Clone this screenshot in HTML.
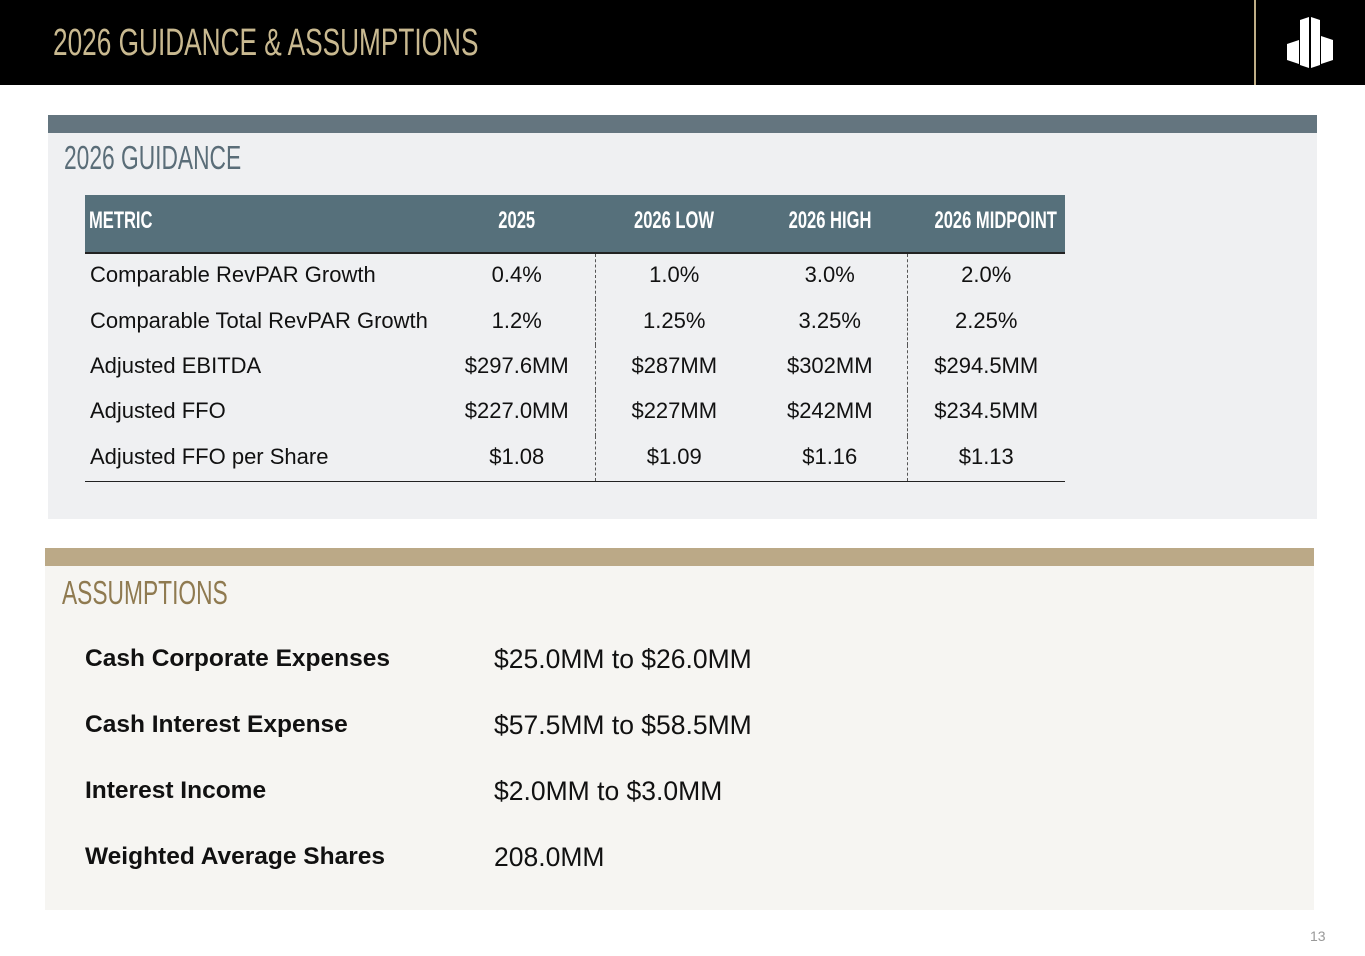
<!DOCTYPE html>
<html><head><meta charset="utf-8">
<style>
body{margin:0;width:1365px;height:956px;background:#fff;position:relative;overflow:hidden;font-family:"Liberation Sans",sans-serif;}
.abs{position:absolute;}
.cond{display:inline-block;transform:scaleX(0.69);transform-origin:left center;white-space:nowrap;}
table{border-collapse:collapse;position:absolute;left:85px;top:195px;width:980px;font-size:22px;color:#111;table-layout:fixed;}
th{background:#56707b;color:#fff;height:58px;font-weight:bold;font-size:24px;text-align:center;padding:0 0 6px 0;border-bottom:2px solid #222;white-space:nowrap;box-sizing:border-box;}
th span{display:inline-block;transform:scaleX(0.69);}
th:first-child{text-align:left;padding-left:4px;}
th:first-child span{transform-origin:left center;}
td{height:42.4px;text-align:center;padding:0 0 3px 0;white-space:nowrap;}
td:first-child{text-align:left;padding-left:5px;}
tr:last-child td{border-bottom:1.5px solid #222;}
.dl{border-left:1px dashed #555;}
.ar{font-size:24.5px;font-weight:bold;color:#111;}
.av{font-size:26.5px;color:#111;}
</style></head><body>
<div class="abs" style="left:0;top:0;width:1365px;height:85px;background:#000;"></div>
<div class="abs cond" style="left:53px;top:22px;font-size:38px;color:#c9b990;">2026 GUIDANCE &amp; ASSUMPTIONS</div>
<div class="abs" style="left:1254px;top:0;width:2px;height:85px;background:#bfae86;"></div>
<svg class="abs" style="left:1285px;top:14px" width="50" height="56" viewBox="0 0 50 56">
<polygon points="2,30 14,26 14,50 2,46" fill="#fff"/><polygon points="15,6 24,3 24,54 15,51" fill="#fff"/><polygon points="26,3 35,6 35,51 26,54" fill="#fff"/><polygon points="36,22 48,26 48,46 36,50" fill="#fff"/></svg>

<div class="abs" style="left:48px;top:115px;width:1269px;height:404px;background:#eff0f2;"></div>
<div class="abs" style="left:48px;top:115px;width:1269px;height:18px;background:#64757f;"></div>
<div class="abs cond" style="left:64px;top:139px;font-size:33px;color:#5a6d78;">2026 GUIDANCE</div>
<table>
<colgroup><col style="width:354px"><col style="width:156px"><col style="width:158px"><col style="width:154px"><col></colgroup>
<tr><th><span>METRIC</span></th><th><span>2025</span></th><th><span>2026 LOW</span></th><th><span>2026 HIGH</span></th><th><span>2026 MIDPOINT</span></th></tr>
<tr><td>Comparable RevPAR Growth</td><td>0.4%</td><td class="dl">1.0%</td><td>3.0%</td><td class="dl">2.0%</td></tr>
<tr><td>Comparable Total RevPAR Growth</td><td>1.2%</td><td class="dl">1.25%</td><td>3.25%</td><td class="dl">2.25%</td></tr>
<tr><td>Adjusted EBITDA</td><td>$297.6MM</td><td class="dl">$287MM</td><td>$302MM</td><td class="dl">$294.5MM</td></tr>
<tr><td>Adjusted FFO</td><td>$227.0MM</td><td class="dl">$227MM</td><td>$242MM</td><td class="dl">$234.5MM</td></tr>
<tr><td>Adjusted FFO per Share</td><td>$1.08</td><td class="dl">$1.09</td><td>$1.16</td><td class="dl">$1.13</td></tr>
</table>

<div class="abs" style="left:45px;top:548px;width:1269px;height:362px;background:#f6f5f2;"></div>
<div class="abs" style="left:45px;top:548px;width:1269px;height:18px;background:#bba987;"></div>
<div class="abs cond" style="left:62px;top:574px;font-size:33px;color:#8f7a50;">ASSUMPTIONS</div>
<div class="abs ar" style="left:85px;top:645px;">Cash Corporate Expenses</div>
<div class="abs av" style="left:494px;top:644px;">$25.0MM to $26.0MM</div>
<div class="abs ar" style="left:85px;top:711px;">Cash Interest Expense</div>
<div class="abs av" style="left:494px;top:710px;">$57.5MM to $58.5MM</div>
<div class="abs ar" style="left:85px;top:777px;">Interest Income</div>
<div class="abs av" style="left:494px;top:776px;">$2.0MM to $3.0MM</div>
<div class="abs ar" style="left:85px;top:843px;">Weighted Average Shares</div>
<div class="abs av" style="left:494px;top:842px;">208.0MM</div>
<div class="abs" style="left:1310px;top:928px;font-size:14px;color:#999;">13</div>
</body></html>
